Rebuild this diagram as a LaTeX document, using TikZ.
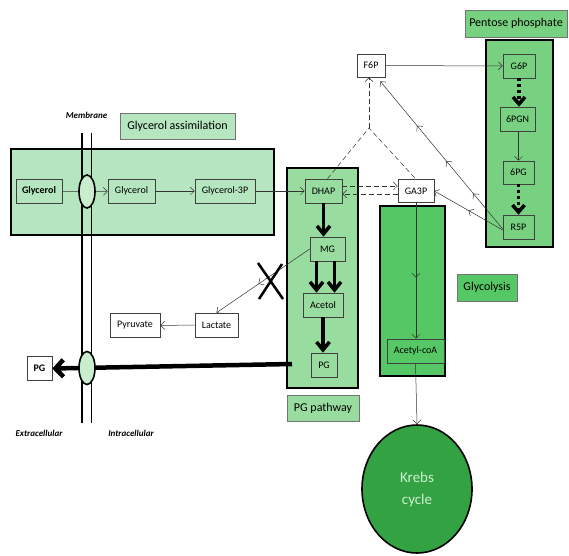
\documentclass[tikz,border=0pt]{standalone}
\usepackage{fontspec}
\setmainfont{Carlito}
\usetikzlibrary{arrows.meta,decorations.markings,shapes.geometric}
\definecolor{gaC}{HTML}{B6E6BF}
\definecolor{pgC}{HTML}{98DC9F}
\definecolor{glC}{HTML}{55C764}
\definecolor{ppC}{HTML}{77D180}
\definecolor{krC}{HTML}{33A243}
\definecolor{krT}{HTML}{CDEFD1}
\definecolor{memC}{HTML}{C8EECD}
\begin{document}
\begin{tikzpicture}[x=1pt,y=-1pt,
  cont/.style={draw=black,line width=2pt,inner sep=0pt},
  lab/.style={draw=black!55,line width=0.6pt,font=\fontsize{12}{14}\selectfont,inner sep=0pt},
  ibox/.style={draw=black!75,line width=0.6pt,font=\fontsize{10}{12}\selectfont,inner sep=0pt,minimum height=24pt},
  wbox/.style={ibox,fill=white},
  tarr/.style={draw=black!80,line width=0.5pt,-{Straight Barb[length=4pt,width=8pt]}},
  bigarr/.style={line width=3.5pt,-{Straight Barb[length=8pt,width=13pt]}},
  dotarr/.style={line width=3.5pt,dash pattern=on 3pt off 3pt,-{Straight Barb[length=7pt,width=12pt]}},
  dsh/.style={draw=black!80,line width=0.5pt,dash pattern=on 5pt off 3pt},
  mid/.style={postaction={decorate,decoration={markings,mark=at position #1 with {\arrow{Straight Barb[length=4pt,width=8pt]}}}}},
  memlab/.style={font=\fontsize{9}{11}\selectfont\bfseries\itshape},
  memb/.style={draw=black,line width=1.6pt,fill=memC,ellipse,minimum width=16pt,minimum height=33pt,inner sep=0pt}
]
\useasboundingbox[fill=white] (0,0) rectangle (569,555);

% containers
\node[cont,fill=gaC,minimum width=263pt,minimum height=86pt] (GAbox) at (142.5,192) {};
\node[cont,fill=pgC,minimum width=71pt,minimum height=220pt] (PGbox) at (322.5,278) {};
\node[cont,fill=glC,minimum width=65pt,minimum height=170pt] (GLbox) at (412.5,291) {};
\node[cont,fill=ppC,minimum width=67pt,minimum height=207pt] (PPbox) at (519.5,143.5) {};

% labels
\node[lab,fill=gaC,minimum width=115pt,minimum height=26pt] (GAlab) at (177.5,126) {Glycerol assimilation};
\node[lab,fill=pgC,minimum width=72pt,minimum height=26pt] (PGlab) at (323,408) {PG pathway};
\node[lab,fill=glC,minimum width=60pt,minimum height=27pt] (GLlab) at (487,287.5) {Glycolysis};
\node[lab,fill=ppC,minimum width=102pt,minimum height=27pt] (PPlab) at (516,23.5) {Pentose phosphate};

\node[memlab] (memlabel) at (86.5,115) {Membrane};
\node[memlab] (extra) at (39,433) {Extracellular};
\node[memlab] (intra) at (131,433) {Intracellular};

% inner boxes
\node[ibox,minimum width=46pt,font=\fontsize{10}{12}\selectfont\bfseries] (Gly0) at (39,191) {Glycerol};
\node[ibox,minimum width=47pt] (Gly1) at (131.5,191) {Glycerol};
\node[ibox,minimum width=60pt] (G3P) at (225,191) {Glycerol-3P};
\node[ibox,minimum width=37pt] (DHAP) at (323.5,191) {DHAP};
\node[ibox,minimum width=35pt] (MG) at (327.5,249) {MG};
\node[ibox,minimum width=40pt] (Acetol) at (323,305) {Acetol};
\node[ibox,minimum width=26pt] (PGin) at (324,365) {PG};
\node[wbox,minimum width=36pt,minimum height=23pt] (GA3P) at (416,191) {GA3P};
\node[ibox,minimum width=57pt] (ACoA) at (415.5,351) {Acetyl-coA};
\node[wbox,minimum width=28pt,minimum height=23pt] (F6P) at (371,65.5) {F6P};
\node[ibox,minimum width=32pt] (G6P) at (519,66) {G6P};
\node[ibox,minimum width=35pt] (PGN) at (517.5,119) {6PGN};
\node[ibox,minimum width=31pt,minimum height=23pt] (SixPG) at (518.5,172.5) {6PG};
\node[ibox,minimum width=31pt] (R5P) at (518.5,227) {R5P};
\node[wbox,minimum width=43pt] (Lact) at (216.5,325) {Lactate};
\node[wbox,minimum width=50pt] (Pyr) at (135,325.5) {Pyruvate};
\node[wbox,minimum width=25pt,font=\fontsize{10}{12}\selectfont\bfseries] (PGout) at (39.5,368.5) {PG};

% Krebs
\node[draw=black,line width=1.6pt,fill=krC,ellipse,minimum width=110pt,minimum height=128pt,inner sep=0pt,
  text=krT,font=\fontsize{15}{22}\selectfont,align=center] (Krebs) at (417,489) {Krebs\\cycle};

% membrane
\coordinate (mA1) at (82,133); \coordinate (mA2) at (82,423);
\coordinate (mB1) at (91.5,133); \coordinate (mB2) at (91.5,423);
\draw[line width=1.8pt] (mA1) -- (mA2) (mB1) -- (mB2);

% PG export
\draw[line width=4.5pt,-{Straight Barb[length=8pt,width=17pt]}] ([yshift=1pt]PGin.west -| PGbox.west) ++(6,0) coordinate (pgs) -- (PGout.east);
\node[memb] (chan1) at (87,191.5) {};
\node[memb] (chan2) at (87,368) {};

% glycerol path
\draw[draw=black!80,line width=0.5pt] (Gly0) -- (chan1);
\draw[tarr] (chan1) -- (Gly1);
\draw[tarr] (Gly1) -- (G3P);
\draw[tarr] (G3P) -- (DHAP);

% PG pathway
\draw[bigarr] (DHAP.south) -- (MG.north -| DHAP.south);
\draw[bigarr] ([xshift=-11pt]MG.south) coordinate (m1) -- (m1 |- Acetol.north);
\draw[bigarr] ([xshift=7pt]MG.south) coordinate (m2) -- (m2 |- Acetol.north);
\draw[bigarr] (Acetol.south) -- (PGin.north -| Acetol.south);

% MG -> lactate
\draw[tarr,mid=0.55] (MG.west) -- (Lact.north);
\draw[tarr] (Lact) -- (Pyr);
\coordinate (x1) at (258,263); \coordinate (x2) at (283,299);
\coordinate (x3) at (282,264); \coordinate (x4) at (259,299);
\draw[line width=2.5pt] (x1) -- (x2) (x3) -- (x4);

% DHAP <-> GA3P
\draw[dsh,-{Straight Barb[length=4pt,width=8pt]}] ([yshift=5pt]DHAP.east) -- ([yshift=5pt]GA3P.west);
\draw[dsh,-{Straight Barb[length=4pt,width=8pt]}] ([yshift=-3pt]GA3P.west) -- ([yshift=-3pt]DHAP.east);
\coordinate (J) at (369,128);
\draw[dsh] ([xshift=4pt]DHAP.north) -- (J) -- (GA3P.north);
\draw[dsh,-{Straight Barb[length=4pt,width=8pt]}] (J) -- (F6P.south -| J);

% glycolysis
\draw[tarr,mid=0.55] (GA3P.south) -- (ACoA.north -| GA3P.south);
\draw[tarr] (ACoA.south) -- (Krebs.north);

% pentose phosphate
\draw[tarr] (F6P) -- (G6P);
\draw[dotarr] (G6P.south) -- (PGN.north -| G6P.south);
\draw[tarr] (PGN.south -| SixPG.north) -- (SixPG.north);
\draw[dotarr] (SixPG.south) -- (R5P.north);
\draw[tarr,postaction={decorate,decoration={markings,
   mark=at position 0.24 with {\arrow{Straight Barb[length=4pt,width=8pt]}},
   mark=at position 0.46 with {\arrow{Straight Barb[length=4pt,width=8pt]}},
   mark=at position 0.70 with {\arrow{Straight Barb[length=4pt,width=8pt]}}}}]
   ([yshift=-2pt]R5P.west) -- ([xshift=-5pt,yshift=-4pt]F6P.south east);
\draw[tarr,mid=0.5] ([yshift=-3pt]R5P.west) -- (GA3P.east);
\end{tikzpicture}
\end{document}
